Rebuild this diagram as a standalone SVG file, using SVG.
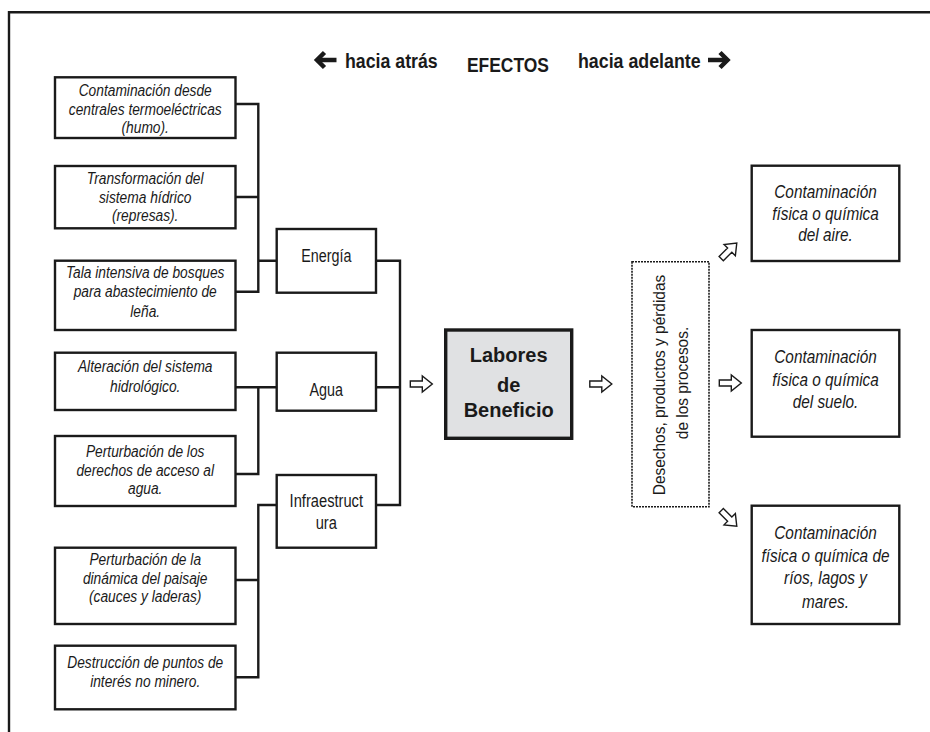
<svg xmlns="http://www.w3.org/2000/svg" width="930" height="732" viewBox="0 0 930 732">
<style>
.bg{fill:#ffffff}
.frame{fill:none;stroke:#1a1a1a;stroke-width:2.4}
.box{fill:#ffffff;stroke:#1a1a1a;stroke-width:2.4}
.main{fill:#e0e1e3;stroke:#1a1a1a;stroke-width:3.4}
.dash{fill:#ffffff;stroke:#1a1a1a;stroke-width:1.6;stroke-dasharray:2 1}
.ln{fill:none;stroke:#1a1a1a;stroke-width:2.4}
.harrow{fill:#ffffff;stroke:#1a1a1a;stroke-width:1.4;stroke-linejoin:miter}
.sarrow{fill:none;stroke:#1a1a1a;stroke-width:4.5;stroke-linejoin:miter;stroke-linecap:butt}
.it{font-family:"Liberation Sans",Arial,sans-serif;font-style:italic;font-size:17px;fill:#1a1a1a;text-anchor:middle}
.itr{font-family:"Liberation Sans",Arial,sans-serif;font-style:italic;font-size:18.5px;fill:#1a1a1a;text-anchor:middle}
.rg{font-family:"Liberation Sans",Arial,sans-serif;font-size:17.5px;fill:#1a1a1a;text-anchor:middle}
.rgv{font-family:"Liberation Sans",Arial,sans-serif;font-size:16px;fill:#1a1a1a;text-anchor:middle}
.hd{font-family:"Liberation Sans",Arial,sans-serif;font-weight:bold;font-size:21px;fill:#1a1a1a}
.lb{font-family:"Liberation Sans",Arial,sans-serif;font-weight:bold;font-size:20px;fill:#1a1a1a;text-anchor:middle}
</style>
<defs>
<path id="ha" d="M-11,-3 H1 V-8 L11,0 L1,8 V3 H-11 Z"/>
</defs>
<rect class="bg" x="0" y="0" width="930" height="732"/>
<path class="frame" d="M9,732 V12.3 H930"/>

<g id="header">
<path class="sarrow" d="M336.5,60 H318"/>
<path class="sarrow" d="M324.5,52.5 L317,60 L324.5,67.5"/>
<text class="hd" transform="translate(345,68.3) scale(0.845,1)">hacia atrás</text>
<text class="hd" transform="translate(467,71.7) scale(0.83,1)">EFECTOS</text>
<text class="hd" transform="translate(578,68.3) scale(0.848,1)">hacia adelante</text>
<path class="sarrow" d="M708,60 H726.5"/>
<path class="sarrow" d="M720,52.5 L727.5,60 L720,67.5"/>
</g>

<g id="connectors">
<path class="ln" d="M235.5,104 H258.3 V291.7 H235.5 M235.5,197 H258.3 M258.3,260.7 H276.7"/>
<path class="ln" d="M235.5,387.3 H276.7 M258.3,387.3 V474 H235.5"/>
<path class="ln" d="M276.7,505 H258.3 V677.3 H235.5 M235.5,580 H258.3"/>
<path class="ln" d="M376,260.7 H400 V505 H376 M376,387.3 H400"/>
<use href="#ha" class="harrow" transform="translate(421.3,384)"/>
<use href="#ha" class="harrow" transform="translate(600.8,384)"/>
<use href="#ha" class="harrow" transform="translate(730.3,383)"/>
<use href="#ha" class="harrow" transform="translate(729,250.8) rotate(-45)"/>
<use href="#ha" class="harrow" transform="translate(729,518.5) rotate(45)"/>
</g>

<g id="n-contaminacion-centrales">
<rect class="box" x="55" y="77.3" width="180.5" height="60.7"/>
<text class="it" transform="translate(145.2,95.5) scale(0.81,1)">Contaminación desde</text>
<text class="it" transform="translate(145.2,114.5) scale(0.81,1)">centrales termoeléctricas</text>
<text class="it" transform="translate(145.2,133.3) scale(0.81,1)">(humo).</text>
</g>
<g id="n-transformacion">
<rect class="box" x="55" y="166" width="180.5" height="62.3"/>
<text class="it" transform="translate(145.2,184) scale(0.81,1)">Transformación del</text>
<text class="it" transform="translate(145.2,202.5) scale(0.81,1)">sistema hídrico</text>
<text class="it" transform="translate(145.2,221) scale(0.81,1)">(represas).</text>
</g>
<g id="n-tala">
<rect class="box" x="55" y="260.7" width="180.5" height="69.3"/>
<text class="it" transform="translate(145.2,277.5) scale(0.81,1)">Tala intensiva de bosques</text>
<text class="it" transform="translate(145.2,297) scale(0.81,1)">para abastecimiento de</text>
<text class="it" transform="translate(145.2,316.5) scale(0.81,1)">leña.</text>
</g>
<g id="n-alteracion">
<rect class="box" x="55" y="352.7" width="180.5" height="57.3"/>
<text class="it" transform="translate(145.2,372.3) scale(0.81,1)">Alteración del sistema</text>
<text class="it" transform="translate(145.2,391.7) scale(0.81,1)">hidrológico.</text>
</g>
<g id="n-perturbacion-derechos">
<rect class="box" x="55" y="436" width="180.5" height="70"/>
<text class="it" transform="translate(145.2,456.7) scale(0.81,1)">Perturbación de los</text>
<text class="it" transform="translate(145.2,475.5) scale(0.81,1)">derechos de acceso al</text>
<text class="it" transform="translate(145.2,494) scale(0.81,1)">agua.</text>
</g>
<g id="n-perturbacion-paisaje">
<rect class="box" x="55" y="547.7" width="180.5" height="76.3"/>
<text class="it" transform="translate(145.2,565) scale(0.81,1)">Perturbación de la</text>
<text class="it" transform="translate(145.2,583.5) scale(0.81,1)">dinámica del paisaje</text>
<text class="it" transform="translate(145.2,602) scale(0.81,1)">(cauces y laderas)</text>
</g>
<g id="n-destruccion">
<rect class="box" x="55" y="645.7" width="180.5" height="63.6"/>
<text class="it" transform="translate(145.2,668) scale(0.81,1)">Destrucción de puntos de</text>
<text class="it" transform="translate(145.2,687) scale(0.81,1)">interés no minero.</text>
</g>

<g id="n-energia">
<rect class="box" x="276.7" y="229" width="99.3" height="63.7"/>
<text class="rg" transform="translate(326.3,261.5) scale(0.82,1)">Energía</text>
</g>
<g id="n-agua">
<rect class="box" x="276.7" y="352.7" width="99.3" height="58"/>
<text class="rg" transform="translate(326.3,396) scale(0.82,1)">Agua</text>
</g>
<g id="n-infraestructura">
<rect class="box" x="276.7" y="475" width="99.3" height="72.7"/>
<text class="rg" transform="translate(326.3,507) scale(0.84,1)">Infraestruct</text>
<text class="rg" transform="translate(326.3,529) scale(0.84,1)">ura</text>
</g>

<g id="n-labores">
<rect class="main" x="445.7" y="330" width="126" height="108.3"/>
<text class="lb" x="508.7" y="361.7">Labores</text>
<text class="lb" x="508.7" y="392">de</text>
<text class="lb" x="508.7" y="416.7">Beneficio</text>
</g>

<g id="n-desechos">
<rect class="dash" x="632" y="261.7" width="77" height="245"/>
<text class="rgv" transform="translate(664.5,385) rotate(-90) scale(0.965,1)">Desechos, productos y pérdidas</text>
<text class="rgv" transform="translate(688,383) rotate(-90) scale(0.965,1)">de los procesos.</text>
</g>

<g id="n-aire">
<rect class="box" x="751.7" y="165.7" width="147.6" height="95.3"/>
<text class="itr" transform="translate(825.5,198.3) scale(0.83,1)">Contaminación</text>
<text class="itr" transform="translate(825.5,220) scale(0.83,1)">física o química</text>
<text class="itr" transform="translate(825.5,240.7) scale(0.83,1)">del aire.</text>
</g>
<g id="n-suelo">
<rect class="box" x="751.7" y="330" width="147.6" height="106.7"/>
<text class="itr" transform="translate(825.5,363.3) scale(0.83,1)">Contaminación</text>
<text class="itr" transform="translate(825.5,386) scale(0.83,1)">física o química</text>
<text class="itr" transform="translate(825.5,407.7) scale(0.83,1)">del suelo.</text>
</g>
<g id="n-rios">
<rect class="box" x="751.7" y="505.7" width="147.6" height="118.3"/>
<text class="itr" transform="translate(825.5,539.3) scale(0.83,1)">Contaminación</text>
<text class="itr" transform="translate(825.5,561.7) scale(0.83,1)">física o química de</text>
<text class="itr" transform="translate(825.5,584.3) scale(0.83,1)">ríos, lagos y</text>
<text class="itr" transform="translate(825.5,607.7) scale(0.83,1)">mares.</text>
</g>
</svg>
